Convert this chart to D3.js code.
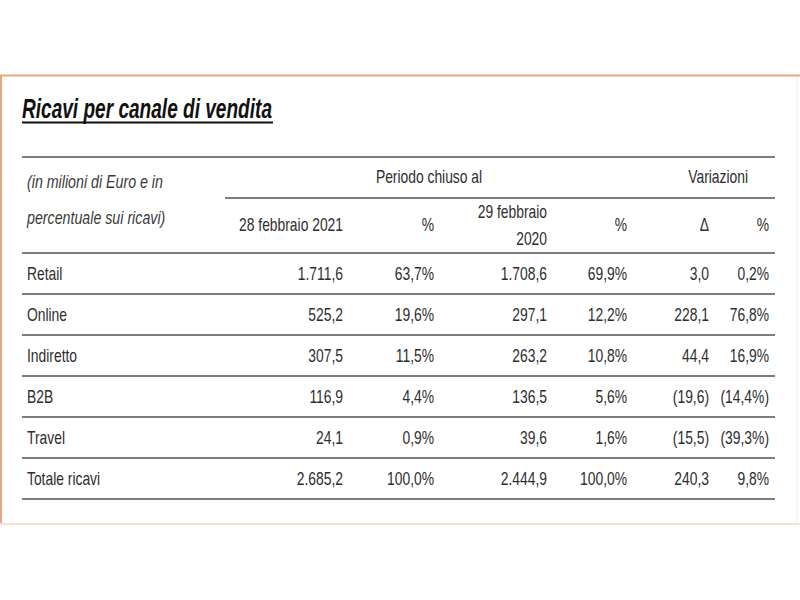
<!DOCTYPE html>
<html>
<head>
<meta charset="utf-8">
<script src="https://cdn.jsdelivr.net/npm/d3@7"></script>
<style>
  html, body { margin: 0; padding: 0; background: #fff; }
  svg { display: block; }
  text { font-family: "Liberation Sans", Arial, sans-serif; }
</style>
</head>
<body>
<svg id="chart" width="800" height="600"></svg>
<script>
// ---- data ----
const title = "Ricavi per canale di vendita";
const unitNote = ["(in milioni di Euro e in", "percentuale sui ricavi)"];
const groupHeaders = ["Periodo chiuso al", "Variazioni"];
const columnHeaders = [["28 febbraio 2021"], ["%"], ["29 febbraio", "2020"], ["%"], ["Δ"], ["%"]];
const categories = ["Retail", "Online", "Indiretto", "B2B", "Travel", "Totale ricavi"];
const ricavi2021 = [1711.6, 525.2, 307.5, 116.9, 24.1, 2685.2];
const quota2021 = [63.7, 19.6, 11.5, 4.4, 0.9, 100.0];
const ricavi2020 = [1708.6, 297.1, 263.2, 136.5, 39.6, 2444.9];
const quota2020 = [69.9, 12.2, 10.8, 5.6, 1.6, 100.0];
const variazione = [3.0, 228.1, 44.4, -19.6, -15.5, 240.3];
const variazionePct = [0.2, 76.8, 16.9, -14.4, -39.3, 9.8];

// ---- formatting (Italian locale) ----
const it = d3.formatLocale({decimal: ",", thousands: ".", grouping: [3], currency: ["€", ""]});
const fNum = it.format(",.1f");
const num = v => v < 0 ? "(" + fNum(-v) + ")" : fNum(v);
const pct = v => v < 0 ? "(" + fNum(-v) + "%)" : fNum(v) + "%";

const series = [
  {values: ricavi2021, fmt: num},
  {values: quota2021, fmt: pct},
  {values: ricavi2020, fmt: num},
  {values: quota2020, fmt: pct},
  {values: variazione, fmt: num},
  {values: variazionePct, fmt: pct}
];

// ---- layout ----
const svg = d3.select("#chart");
const left = 22, right = 775;
const colRight = [343, 434, 547, 627, 709, 769];
const x = d3.scaleOrdinal().domain(d3.range(6)).range(colRight);
const y = d3.scaleBand().domain(categories).range([253, 499]).paddingInner(0).paddingOuter(0);
const lineColor = "#50505a";
const textColor = "#2e2e2e";
const FS = 18, SX = 0.77;

// condensed text helper
function ctext(parent, tx, ty, anchor, str, opts = {}) {
  const t = parent.append("text")
    .attr("transform", `translate(${tx},${ty}) scale(${opts.sx || SX},1)`)
    .attr("x", 0).attr("y", 0).attr("dy", "0.35em")
    .attr("text-anchor", anchor)
    .attr("font-size", opts.fs || FS)
    .attr("fill", opts.fill || textColor)
    .text(str);
  if (opts.italic) t.attr("font-style", "italic");
  return t;
}

// frame
svg.append("rect").attr("x", 0).attr("y", 0).attr("width", 800).attr("height", 600).attr("fill", "#fff");
svg.append("line").attr("x1", 0).attr("x2", 800).attr("y1", 75.5).attr("y2", 75.5)
  .attr("stroke", "#e9a57a").attr("stroke-width", 2);
svg.append("line").attr("x1", 1).attr("x2", 1).attr("y1", 75).attr("y2", 524)
  .attr("stroke", "#e9a57a").attr("stroke-width", 2);
svg.append("line").attr("x1", 0).attr("x2", 800).attr("y1", 524).attr("y2", 524)
  .attr("stroke", "#f6e2d3").attr("stroke-width", 2);
svg.append("line").attr("x1", 797).attr("x2", 797).attr("y1", 77).attr("y2", 524)
  .attr("stroke", "#f8f0ea").attr("stroke-width", 1.5);

// title
svg.append("text").attr("x", left).attr("y", 118)
  .attr("font-size", 28).attr("font-weight", "bold").attr("font-style", "italic")
  .attr("fill", "#111").attr("textLength", 250).attr("lengthAdjust", "spacingAndGlyphs")
  .text(title);
svg.append("line").attr("x1", left).attr("x2", 273).attr("y1", 122.5).attr("y2", 122.5)
  .attr("stroke", "#111").attr("stroke-width", 2);

// header lines
const hl = (x1, x2, yy) => svg.append("line").attr("x1", x1).attr("x2", x2)
  .attr("y1", yy).attr("y2", yy).attr("stroke", lineColor).attr("stroke-width", 1.6);
hl(left, right, 157);
hl(225, right, 198);
hl(left, right, 253);

// unit note
unitNote.forEach((t, i) => ctext(svg, 27, 182 + i * 36, "start", t, {italic: true, fill: "#3a3a3a", sx: 0.79}));

// group headers
ctext(svg, 429, 177, "middle", groupHeaders[0]);
ctext(svg, 748, 177, "end", groupHeaders[1]);

// column headers
columnHeaders.forEach((lines, c) => {
  const n = lines.length;
  lines.forEach((t, k) => {
    const yy = n === 1 ? 225 : 212 + k * 27;
    ctext(svg, x(c), yy, "end", t);
  });
});

// row lines
svg.selectAll("line.row").data(categories).join("line").attr("class", "row")
  .attr("x1", left).attr("x2", right)
  .attr("y1", d => y(d) + y.bandwidth()).attr("y2", d => y(d) + y.bandwidth())
  .attr("stroke", lineColor).attr("stroke-width", 1.6);

// row labels
categories.forEach(cat => ctext(svg, 27, y(cat) + y.bandwidth() / 2, "start", cat));

// cells
series.forEach((s, c) => {
  s.values.forEach((v, i) => {
    ctext(svg, x(c), y(categories[i]) + y.bandwidth() / 2, "end", s.fmt(v));
  });
});
</script>
</body>
</html>
